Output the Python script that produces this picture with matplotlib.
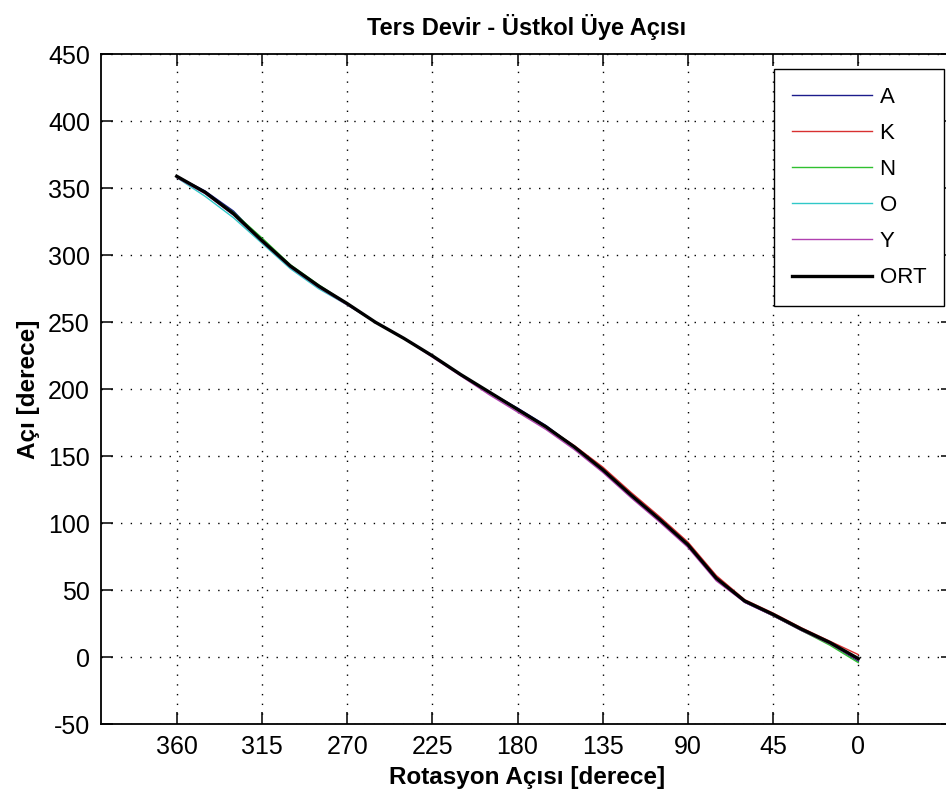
import matplotlib
matplotlib.use("Agg")
import matplotlib.pyplot as plt

plt.rcParams['font.family'] = ['Liberation Sans', 'DejaVu Sans']

# Data
rotation = [360, 345, 330, 315, 300, 285, 270, 255, 240, 225, 210, 195, 180,
            165, 150, 135, 120, 105, 90, 75, 60, 45, 30, 15, 0]
A = [359, 348, 333, 311, 292, 277, 264, 250, 238, 225, 211, 198, 186, 173, 157, 140, 121, 103, 84, 59, 41, 31, 20, 10, -3]
K = [358, 347, 331, 311, 292, 277, 264, 250, 238, 225, 211, 198, 185, 172, 158, 142, 123, 105, 86, 61, 43, 33, 22, 12, 2]
N = [358, 347, 332, 313, 293, 278, 264, 250, 238, 225, 211, 198, 185, 172, 157, 140, 121, 103, 84, 59, 42, 31, 20, 9, -4]
O = [358, 344, 328, 309, 290, 275, 263, 250, 238, 225, 211, 198, 185, 172, 157, 140, 121, 103, 84, 59, 42, 32, 21, 11, -1]
Y = [358, 346, 330, 310, 291, 276, 263, 250, 238, 224, 210, 196, 183, 170, 155, 138, 119, 101, 82, 57, 41, 31, 20, 10, -2]
ORT = [359, 347, 331, 311, 292, 277, 264, 250, 238, 225, 211, 198, 185, 172, 157, 140, 121, 103, 84, 59, 42, 32, 21, 11, -1]

series_names = ['A', 'K', 'N', 'O', 'Y']
series_vals = [A, K, N, O, Y]
series_colors = ['#1c1c8c', '#d83030', '#30c030', '#30c8c8', '#b040b0']

xticks = [360, 315, 270, 225, 180, 135, 90, 45, 0]
yticks = [-50, 0, 50, 100, 150, 200, 250, 300, 350, 400, 450]

W, H = 946, 800
fig = plt.figure(figsize=(W / 100, H / 100), dpi=100)
left, right, top, bottom = 101, 953, 54.3, 724.3
ax = fig.add_axes([left / W, 1 - bottom / H, (right - left) / W, (bottom - top) / H])

for name, vals, c in zip(series_names, series_vals, series_colors):
    ax.plot(rotation, vals, color=c, lw=1.0, label=name)
ax.plot(rotation, ORT, color='black', lw=2.4, label='ORT')

ax.set_xlim(400, -50)
ax.set_ylim(-50, 450)
ax.set_xticks(xticks)
ax.set_yticks(yticks)
ax.set_xticklabels([str(t) for t in xticks])
ax.set_yticklabels([str(t) for t in yticks])

ax.grid(True, color='black', linestyle=(0, (1, 6)), linewidth=1.0)
ax.tick_params(direction='in', length=8.5, width=1.1, top=True, right=True,
               labelsize=18, pad=8)
for s in ax.spines.values():
    s.set_linewidth(1.3)

ax.set_title('Ters Devir - Üstkol Üye Açısı', fontsize=17, fontweight='bold', pad=14)
ax.set_xlabel('Rotasyon Açısı [derece]', fontsize=17.5, fontweight='bold', labelpad=5)
ax.set_ylabel('Açı [derece]', fontsize=17.5, fontweight='bold', labelpad=6)

leg = ax.legend(loc='upper right', bbox_to_anchor=(944 / W, 1 - 69 / H),
                bbox_transform=fig.transFigure, borderaxespad=0,
                fontsize=16, handlelength=3.6, handletextpad=0.35,
                labelspacing=0.68, borderpad=0.8, fancybox=False,
                framealpha=1, edgecolor='black')
leg.get_frame().set_linewidth(1.0)

fig.savefig('out.png', dpi=100)
